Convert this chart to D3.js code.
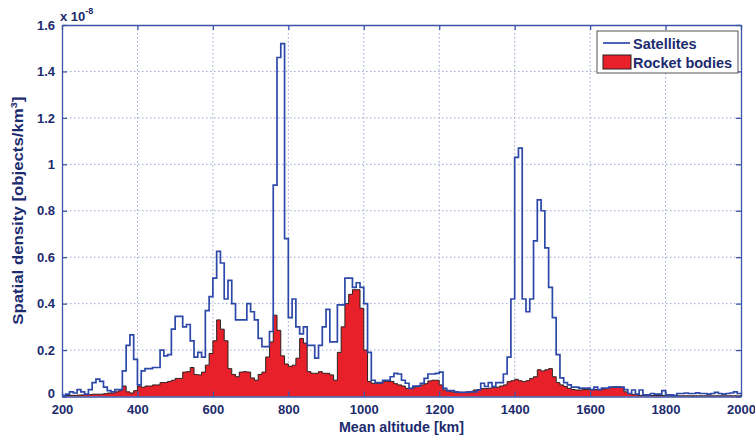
<!DOCTYPE html>
<html>
<head>
<meta charset="utf-8">
<script src="https://cdn.jsdelivr.net/npm/d3@7"></script>
<style>
  html, body { margin: 0; padding: 0; background: #fff; }
  svg text { font-family: "Liberation Sans", Arial, sans-serif; font-weight: bold; fill: #1c2b6e; }
</style>
</head>
<body>
<svg id="chart" width="755" height="440"></svg>
<script>
// Altitude bins: 10 km wide, from 200 to 2000 km (start of each bin)
const binStarts = d3.range(200, 2000, 10);
const binWidth = 10;

// Spatial density, units of 1e-8 objects/km^3
const satellites = [
  0.005, 0.01, 0.02, 0.015, 0.03, 0.02, 0.01, 0.03, 0.06, 0.075,
  0.065, 0.04, 0.025, 0.02, 0.03, 0.03, 0.11, 0.22, 0.265, 0.16,
  0.05, 0.11, 0.12, 0.12, 0.125, 0.125, 0.2, 0.175, 0.18, 0.29,
  0.345, 0.345, 0.3, 0.31, 0.24, 0.17, 0.19, 0.17, 0.37, 0.43,
  0.51, 0.625, 0.575, 0.42, 0.5, 0.4, 0.33, 0.33, 0.33, 0.4,
  0.365, 0.33, 0.25, 0.215, 0.215, 0.28, 0.91, 1.46, 1.52, 0.68,
  0.34, 0.42, 0.3, 0.27, 0.3, 0.22, 0.22, 0.165, 0.22, 0.3,
  0.375, 0.235, 0.235, 0.395, 0.395, 0.51, 0.51, 0.47, 0.49, 0.47,
  0.4, 0.19, 0.07, 0.06, 0.06, 0.07, 0.07, 0.085, 0.1, 0.097,
  0.07, 0.057, 0.035, 0.045, 0.045, 0.057, 0.078, 0.097, 0.097, 0.1,
  0.105, 0.035, 0.025, 0.025, 0.02, 0.018, 0.018, 0.018, 0.02, 0.02,
  0.028, 0.057, 0.043, 0.06, 0.043, 0.06, 0.06, 0.097, 0.17, 0.42,
  1.03, 1.07, 0.42, 0.365, 0.42, 0.67, 0.847, 0.8, 0.64, 0.47,
  0.34, 0.18, 0.08, 0.06, 0.05, 0.04, 0.04, 0.036, 0.036, 0.036,
  0.03, 0.04, 0.03, 0.036, 0.036, 0.04, 0.04, 0.04, 0.04, 0.03,
  0.013, 0.028, 0.01, 0.028, 0.007, 0.007, 0.013, 0.01, 0.01, 0.025,
  0.007, 0.007, 0.005, 0.013, 0.013, 0.015, 0.013, 0.013, 0.016, 0.013,
  0.013, 0.01, 0.013, 0.018, 0.013, 0.01, 0.013, 0.015, 0.02, 0.013
];

const rocketBodies = [
  0.003, 0.004, 0.005, 0.005, 0.006, 0.007, 0.008, 0.008, 0.01, 0.01,
  0.01, 0.012, 0.015, 0.015, 0.02, 0.025, 0.045, 0.02, 0.015, 0.025,
  0.045, 0.04, 0.045, 0.045, 0.05, 0.05, 0.06, 0.06, 0.065, 0.07,
  0.078, 0.078, 0.105, 0.107, 0.125, 0.095, 0.093, 0.105, 0.135, 0.185,
  0.24, 0.33, 0.29, 0.24, 0.12, 0.095, 0.085, 0.105, 0.107, 0.105,
  0.08, 0.07, 0.095, 0.105, 0.17, 0.235, 0.35, 0.285, 0.175, 0.14,
  0.13, 0.135, 0.165, 0.25, 0.23, 0.107, 0.1, 0.1, 0.107, 0.1,
  0.1, 0.093, 0.07, 0.19, 0.3, 0.4, 0.44, 0.46, 0.46, 0.38,
  0.2, 0.065, 0.057, 0.057, 0.057, 0.065, 0.065, 0.065, 0.055, 0.05,
  0.045, 0.035, 0.035, 0.04, 0.045, 0.05, 0.055, 0.067, 0.07, 0.07,
  0.05, 0.028, 0.024, 0.02, 0.018, 0.018, 0.018, 0.02, 0.022, 0.028,
  0.03, 0.034, 0.034, 0.036, 0.04, 0.04, 0.045, 0.05, 0.064, 0.068,
  0.074, 0.068, 0.064, 0.068, 0.078, 0.085, 0.115, 0.11, 0.115, 0.12,
  0.085, 0.06, 0.05, 0.043, 0.035, 0.03, 0.028, 0.028, 0.03, 0.03,
  0.03, 0.03, 0.03, 0.032, 0.035, 0.04, 0.042, 0.042, 0.04, 0.02,
  0.013, 0.009, 0.007, 0.005, 0.005, 0.005, 0.004, 0.004, 0.004, 0.004,
  0.004, 0.003, 0.003, 0.003, 0.003, 0.003, 0.003, 0.003, 0.003, 0.003,
  0.003, 0.003, 0.003, 0.003, 0.003, 0.003, 0.003, 0.003, 0.003, 0.003
];

const xTicks = [200, 400, 600, 800, 1000, 1200, 1400, 1600, 1800, 2000];
const yTicks = [0, 0.2, 0.4, 0.6, 0.8, 1, 1.2, 1.4, 1.6];
const seriesNames = ["Satellites", "Rocket bodies"];

const svg = d3.select("#chart");
const plot = { left: 62, right: 741, top: 25, bottom: 396.5 };

const x = d3.scaleLinear().domain([200, 2000]).range([plot.left, plot.right]);
const y = d3.scaleLinear().domain([0, 1.6]).range([plot.bottom, plot.top]);

const axisColor = "#3a55a8";
const gridColor = "#9aa6cf";

// Dotted grid
const grid = svg.append("g");
grid.selectAll("line.vx").data(xTicks.slice(1, -1)).join("line")
  .attr("x1", d => x(d)).attr("x2", d => x(d))
  .attr("y1", plot.top).attr("y2", plot.bottom)
  .attr("stroke", gridColor).attr("stroke-width", 1).attr("stroke-dasharray", "1.5,2.5");
grid.selectAll("line.hy").data(yTicks.slice(1, -1)).join("line")
  .attr("x1", plot.left).attr("x2", plot.right)
  .attr("y1", d => y(d)).attr("y2", d => y(d))
  .attr("stroke", gridColor).attr("stroke-width", 1).attr("stroke-dasharray", "1.5,2.5");

// Step series: one point per bin start plus a closing point at the last edge
function stepPoints(values) {
  const pts = binStarts.map((b, i) => [b, values[i]]);
  pts.push([binStarts[binStarts.length - 1] + binWidth, values[values.length - 1]]);
  return pts;
}

const area = d3.area()
  .x(d => x(d[0])).y0(y(0)).y1(d => y(d[1]))
  .curve(d3.curveStepAfter);
const line = d3.line()
  .x(d => x(d[0])).y(d => y(d[1]))
  .curve(d3.curveStepAfter);

svg.append("path")
  .datum(stepPoints(rocketBodies))
  .attr("d", area)
  .attr("fill", "#e8202a");
svg.append("path")
  .datum(stepPoints(rocketBodies))
  .attr("d", line)
  .attr("fill", "none").attr("stroke", "#2a2020").attr("stroke-width", 1);

svg.append("path")
  .datum(stepPoints(satellites))
  .attr("d", line)
  .attr("fill", "none").attr("stroke", "#2c48a8").attr("stroke-width", 1.7)
  .attr("stroke-linejoin", "miter");

// Axes box with inward ticks on all four sides
const bottomAxis = d3.axisBottom(x).tickValues(xTicks).tickSizeInner(-5).tickSizeOuter(0).tickPadding(8).tickFormat(d3.format("d"));
const topAxis = d3.axisTop(x).tickValues(xTicks).tickSizeInner(-5).tickSizeOuter(0).tickFormat("");
const leftAxis = d3.axisLeft(y).tickValues(yTicks).tickSizeInner(-5).tickSizeOuter(0).tickPadding(7).tickFormat(d => d3.format("~g")(d));
const rightAxis = d3.axisRight(y).tickValues(yTicks).tickSizeInner(-5).tickSizeOuter(0).tickFormat("");

function styleAxis(g) {
  g.select(".domain").attr("stroke", axisColor).attr("stroke-width", 1.3);
  g.selectAll(".tick line").attr("stroke", axisColor).attr("stroke-width", 1.3);
  g.selectAll(".tick text").attr("font-size", 13).attr("font-family", "Liberation Sans, Arial, sans-serif")
    .attr("font-weight", "bold").attr("fill", "#1c2b6e");
}

svg.append("g").attr("transform", `translate(0,${plot.bottom})`).call(bottomAxis).call(styleAxis);
svg.append("g").attr("transform", `translate(0,${plot.top})`).call(topAxis).call(styleAxis);
const yAxisG = svg.append("g").attr("transform", `translate(${plot.left},0)`).call(leftAxis).call(styleAxis);
// lift the zero label a little so it clears the first altitude label
yAxisG.selectAll(".tick").filter(d => d === 0).select("text").attr("dy", "0.05em");
svg.append("g").attr("transform", `translate(${plot.right},0)`).call(rightAxis).call(styleAxis);

// Exponent marker
const expo = svg.append("text").attr("x", 60).attr("y", 21).attr("font-size", 13);
expo.append("tspan").text("x 10");
expo.append("tspan").attr("dy", -7).attr("font-size", 9).text("-8");

// Axis titles
svg.append("text")
  .attr("transform", `translate(${(plot.left + plot.right) / 2},432) scale(0.92,1)`)
  .attr("text-anchor", "middle").attr("font-size", 15.5)
  .text("Mean altitude [km]");

const yTitle = svg.append("text")
  .attr("transform", `translate(23,${(plot.top + plot.bottom) / 2}) rotate(-90) scale(1.2,1)`)
  .attr("text-anchor", "middle").attr("font-size", 14);
yTitle.append("tspan").text("Spatial density [objects/km");
yTitle.append("tspan").attr("dy", -6).attr("font-size", 9).text("3");
yTitle.append("tspan").attr("dy", 6).text("]");

// Legend
const legend = svg.append("g").attr("transform", "translate(597,31)");
legend.append("rect").attr("width", 141).attr("height", 42)
  .attr("fill", "#fff").attr("stroke", "#555").attr("stroke-width", 1);
legend.append("line").attr("x1", 6).attr("x2", 33).attr("y1", 12).attr("y2", 12)
  .attr("stroke", "#2c48a8").attr("stroke-width", 1.7);
legend.append("rect").attr("x", 6).attr("y", 24).attr("width", 28).attr("height", 14)
  .attr("fill", "#e8202a").attr("stroke", "#2a2020").attr("stroke-width", 1);
legend.selectAll("text.lab").data(seriesNames).join("text")
  .attr("x", 36).attr("y", (d, i) => 18 + i * 19)
  .attr("font-size", 14.5)
  .text(d => d);
</script>
</body>
</html>
